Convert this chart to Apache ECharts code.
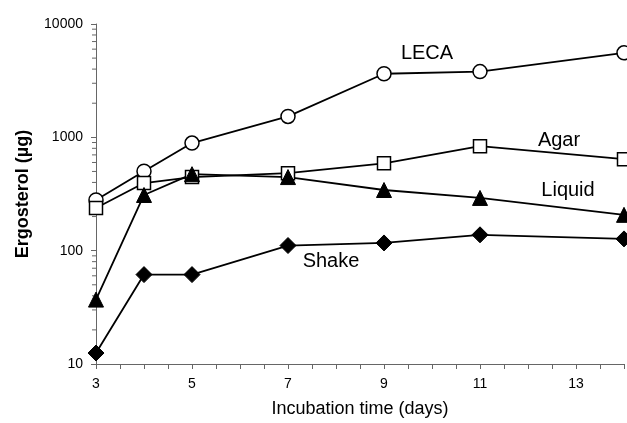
<!DOCTYPE html>
<html>
<head>
<meta charset="utf-8">
<script src="https://cdn.jsdelivr.net/npm/echarts@6/dist/echarts.min.js"></script>
<style>
  html, body { margin: 0; padding: 0; background: #fff; }
  #chart { width: 627px; height: 423px; }
</style>
</head>
<body>
<div id="chart"></div>
<script>
// incubation days
const days = [3, 4, 5, 7, 9, 11, 14];

// ergosterol (ug)
const leca = [280, 503, 890, 1530, 3640, 3800, 5570];
const agar = [238, 395, 446, 483, 590, 835, 641];
const liquid = [37, 310, 473, 446, 343, 292, 207];
const shake = [12.5, 61.5, 61.5, 111, 117, 138, 127];

// minor ticks of the log axis (2..9 in each decade)
const minorTicks = [];
[10, 100, 1000].forEach(d => {
    for (let k = 2; k <= 9; k++) minorTicks.push(d * k);
});

const xMin = 3;
const xMax = 14;
const xLabels = [3, 5, 7, 9, 11, 13];

const pair = vals => days.map((d, i) => [d, vals[i]]);

const chart = echarts.init(document.getElementById('chart'));

const font = 'Liberation Sans, Arial, sans-serif';

const lineBase = {
    type: 'line',
    lineStyle: { color: '#000', width: 1.8 },
    itemStyle: { color: '#fff', borderColor: '#000', borderWidth: 1.5 },
    emphasis: { disabled: true },
    z: 3
};

const option = {
    animation: false,
    backgroundColor: '#fff',
    textStyle: { fontFamily: font },
    grid: { left: 96, right: 3, top: 24, bottom: 58 },
    xAxis: {
        type: 'value',
        min: xMin,
        max: xMax,
        interval: 0.5,
        name: 'Incubation time (days)',
        nameLocation: 'middle',
        nameGap: 36,
        nameTextStyle: { fontSize: 18, color: '#000' },
        axisLine: { lineStyle: { color: '#666', width: 1 } },
        axisTick: { length: 5, lineStyle: { color: '#666' } },
        axisLabel: {
            color: '#000',
            fontSize: 14,
            margin: 13,
            showMinLabel: true,
            showMaxLabel: true,
            interval: 0,
            formatter: v => (xLabels.indexOf(v) >= 0 ? String(v) : '')
        },
        splitLine: { show: false }
    },
    yAxis: {
        type: 'log',
        logBase: 10,
        min: 10,
        max: 10000,
        name: 'Ergosterol (µg)',
        nameLocation: 'middle',
        nameGap: 64,
        nameTextStyle: { fontSize: 18, fontWeight: 'bold', color: '#000' },
        axisLine: { show: true, lineStyle: { color: '#666', width: 1 } },
        axisTick: { show: true, length: 5, lineStyle: { color: '#666' } },
        axisLabel: { color: '#000', fontSize: 14, margin: 13, formatter: v => String(v) },
        splitLine: { show: false }
    },
    series: [
        {
            type: 'custom',
            silent: true,
            clip: false,
            data: minorTicks.map(v => [xMin, v]),
            renderItem: (params, api) => {
                const p = api.coord([api.value(0), api.value(1)]);
                return {
                    type: 'line',
                    shape: { x1: p[0] - 4, y1: p[1], x2: p[0], y2: p[1] },
                    style: { stroke: '#666', lineWidth: 1 }
                };
            },
            z: 1
        },
        Object.assign({}, lineBase, {
            name: 'LECA', data: pair(leca), symbol: 'circle', symbolSize: 14
        }),
        Object.assign({}, lineBase, {
            name: 'Agar', data: pair(agar), symbol: 'rect', symbolSize: 13
        }),
        Object.assign({}, lineBase, {
            name: 'Liquid', data: pair(liquid), symbol: 'triangle', symbolSize: 15,
            itemStyle: { color: '#000', borderColor: '#000', borderWidth: 1 }
        }),
        Object.assign({}, lineBase, {
            name: 'Shake', data: pair(shake), symbol: 'diamond', symbolSize: 16,
            itemStyle: { color: '#000', borderColor: '#000', borderWidth: 1 }
        })
    ],
    graphic: [
        { type: 'text', x: 427, y: 53, style: { text: 'LECA', fontSize: 20, fill: '#000', align: 'center', verticalAlign: 'middle', fontFamily: font } },
        { type: 'text', x: 559, y: 140, style: { text: 'Agar', fontSize: 20, fill: '#000', align: 'center', verticalAlign: 'middle', fontFamily: font } },
        { type: 'text', x: 568, y: 190, style: { text: 'Liquid', fontSize: 20, fill: '#000', align: 'center', verticalAlign: 'middle', fontFamily: font } },
        { type: 'text', x: 331, y: 261, style: { text: 'Shake', fontSize: 20, fill: '#000', align: 'center', verticalAlign: 'middle', fontFamily: font } }
    ]
};

chart.setOption(option);
</script>
</body>
</html>
